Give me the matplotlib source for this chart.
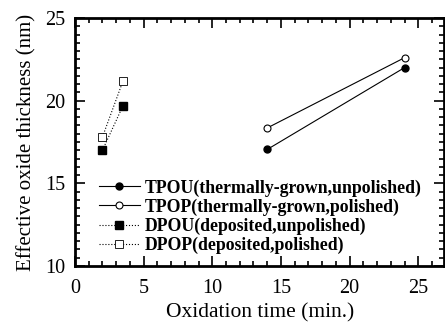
import matplotlib
matplotlib.use("Agg")
import matplotlib.pyplot as plt
from matplotlib.ticker import MultipleLocator

tpou_x = [14, 24]
tpou_y = [17.05, 22.0]
tpop_x = [14, 24]
tpop_y = [18.35, 22.6]
dpou_x = [2, 3.5]
dpou_y = [17.0, 19.7]
dpop_x = [2, 3.5]
dpop_y = [17.8, 21.2]
labels = ["TPOU(thermally-grown,unpolished)", "TPOP(thermally-grown,polished)",
          "DPOU(deposited,unpolished)", "DPOP(deposited,polished)"]

plt.rcParams['font.family'] = ['Liberation Serif']
fig = plt.figure(figsize=(4.45, 3.28), dpi=100)
ax = fig.add_axes([0.1685, 0.189, 0.83, 0.756])

ax.plot(tpou_x, tpou_y, '-', color='black', lw=0.8, marker='o', ms=5, mfc='black', label=labels[0])
ax.plot(tpop_x, tpop_y, '-', color='black', lw=0.8, marker='o', ms=5, mfc='white', mew=0.8, label=labels[1])
ax.plot(dpou_x, dpou_y, ':', color='black', lw=0.8, marker='s', ms=5.5, mfc='black', label=labels[2])
ax.plot(dpop_x, dpop_y, ':', color='black', lw=0.8, marker='s', ms=5.5, mfc='white', mew=0.6, label=labels[3])

ax.set_xlim(0, 26.9)
ax.set_ylim(10, 25)
ax.xaxis.set_major_locator(MultipleLocator(5))
ax.xaxis.set_minor_locator(MultipleLocator(1))
ax.yaxis.set_major_locator(MultipleLocator(5))
ax.yaxis.set_minor_locator(MultipleLocator(0.5))
ax.tick_params(which='both', direction='in', top=True, right=True, labelsize=14.5, width=1.2)
ax.tick_params(which='major', length=7)
ax.tick_params(which='minor', length=3.5)
ax.tick_params(axis='x', which='major', pad=9)
ax.tick_params(axis='y', which='major', pad=7)
for s in ax.spines.values():
    s.set_linewidth(2)

ax.set_xlabel("Oxidation time (min.)", fontsize=15.5, labelpad=4)
ax.set_ylabel("Effective oxide thickness (nm)", fontsize=15, labelpad=6)

leg = ax.legend(loc='lower left', bbox_to_anchor=(0.045, 0.02), frameon=False,
                prop={'family': 'Liberation Serif', 'weight': 'bold', 'size': 12.8},
                handlelength=2.3, handletextpad=0.3, labelspacing=0.1, borderaxespad=0)

fig.savefig("out.png", dpi=100)
